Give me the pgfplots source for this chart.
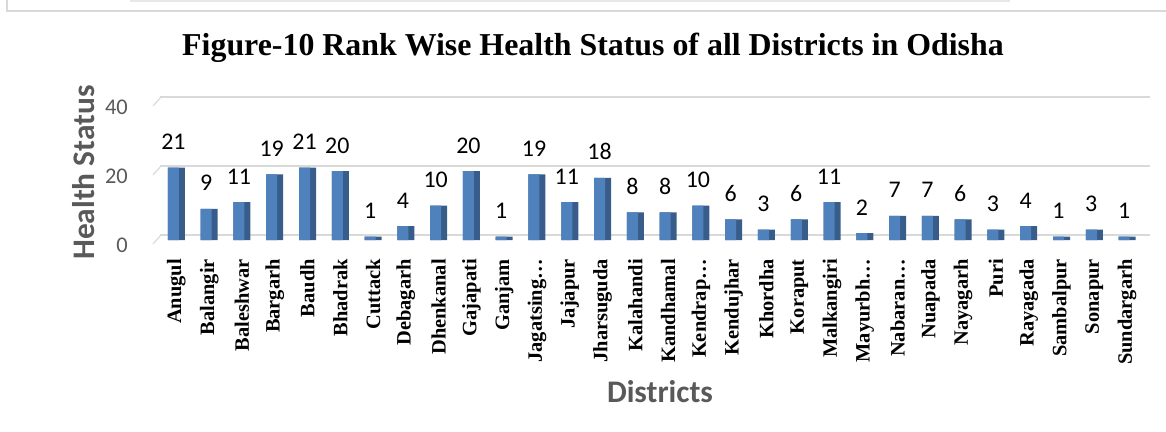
\documentclass[border=0pt]{standalone}
\usepackage{pgfplots}
\pgfplotsset{compat=1.18}
\usepackage{pgfplotstable}
\usepackage{fontspec}
\setmainfont{Liberation Serif}
\newfontfamily\carlito{Carlito}
\definecolor{barfront}{HTML}{4F81BD}
\definecolor{barside}{HTML}{385D8A}
\definecolor{axgray}{HTML}{595959}
\definecolor{gridgray}{HTML}{D9D9D9}
\pgfplotstableread{
x v
0 21
1 9
2 11
3 19
4 21
5 20
6 1
7 4
8 10
9 20
10 1
11 19
12 11
13 18
14 8
15 8
16 10
17 6
18 3
19 6
20 11
21 2
22 7
23 7
24 6
25 3
26 4
27 1
28 3
29 1
}\datatable
\begin{document}
\begin{tikzpicture}[x=1bp,y=1bp]
\useasboundingbox (0,0) rectangle (1166,431);
\draw[gridgray, line width=1.2bp] (7,431) -- (7,420) -- (1166,420);
\draw[gridgray!60, line width=3bp] (130,430) -- (1010,430);
\draw[gridgray, line width=1.2bp] (153,187) -- (161,196);
\draw[gridgray, line width=1.2bp] (153,256) -- (161,265);
\draw[gridgray, line width=1.2bp] (153,325) -- (161,334);
\begin{axis}[
  at={(160bp,191bp)}, anchor=south west,
  scale only axis, width=990bp, height=138bp,
  xmin=-0.5, xmax=29.7, ymin=0, ymax=40,
  ybar,
  axis line style={draw=none},
  major tick length=0pt,
  ytick={0,20,40},
  ymajorgrids,
  major grid style={gridgray, line width=1.2bp, yshift=5bp},
  xtick=data,
  xticklabels={Anugul,Balangir,Baleshwar,Bargarh,Baudh,Bhadrak,Cuttack,Debagarh,Dhenkanal,Gajapati,Ganjam,Jagatsing…,Jajapur,Jharsuguda,Kalahandi,Kandhamal,Kendrap…,Kendujhar,Khordha,Koraput,Malkangiri,Mayurbh…,Nabaran…,Nuapada,Nayagarh,Puri,Rayagada,Sambalpur,Sonapur,Sundargarh},
  xticklabel style={rotate=90, anchor=east, inner sep=0pt, font=\bfseries\fontsize{20.5}{20.5}\selectfont, xshift=-2bp},
  xticklabel shift=17bp,
  /pgf/number format/assume math mode=true,
  yticklabel style={font=\carlito\fontsize{22.5}{22.5}\selectfont, text=axgray, inner sep=0pt, xshift=-32bp, anchor=east, yshift=-5bp},
  ylabel={Health Status},
  ylabel style={at={(axis description cs:-0.0768,0.489)}, anchor=center, font=\carlito\bfseries\fontsize{31.5}{31.5}\selectfont, text=axgray},
  xlabel={Districts},
  xlabel style={at={(rel axis cs:0.505,0)}, anchor=base, yshift=-162bp, font=\carlito\bfseries\fontsize{31.5}{31.5}\selectfont, text=axgray},
  title={Figure-10 Rank Wise Health Status of all Districts in Odisha},
  title style={at={(rel axis cs:0.4374,1)}, anchor=base, yshift=41bp, font=\bfseries\fontsize{32}{32}\selectfont},
  clip=false,
]
\addplot[fill=barside, draw=none, bar width=17bp, bar shift=0bp] table[x=x,y=v]{\datatable};
\addplot[fill=barfront, draw=none, bar width=11bp, bar shift=-3bp,
  nodes near coords,
  nodes near coords style={anchor=base, inner sep=0pt, yshift=18bp, font=\carlito\fontsize{24}{24}\selectfont, text=black}
] table[x=x,y=v]{\datatable};
\end{axis}
\end{tikzpicture}
\end{document}
